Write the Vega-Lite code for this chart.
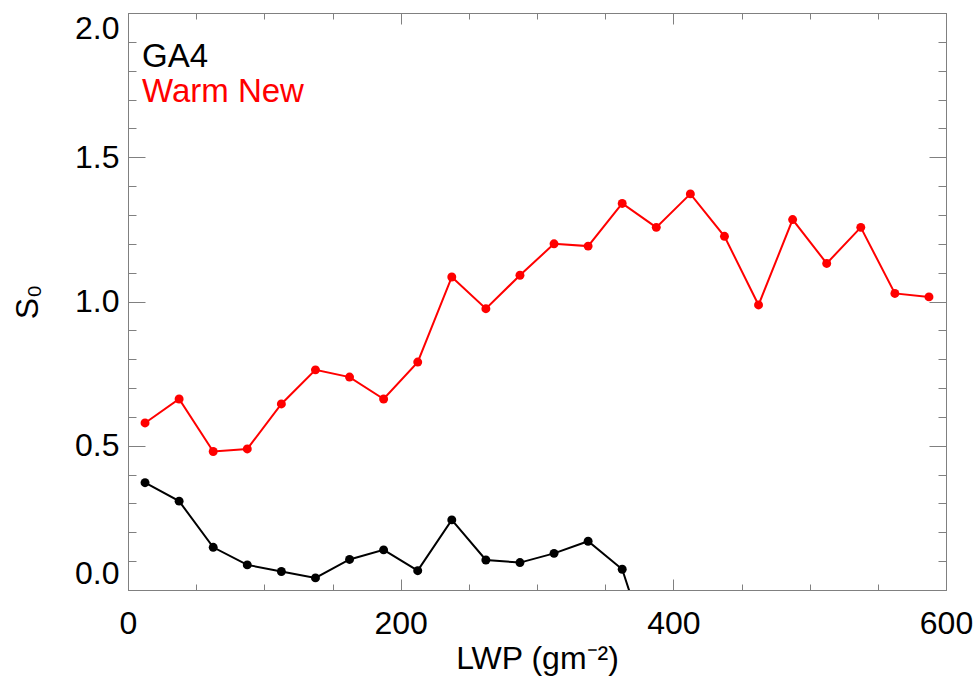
{
  "$schema": "https://vega.github.io/schema/vega-lite/v6.json",
  "autosize": {"type": "none"},
  "padding": {"left": 128, "top": 13, "right": 33, "bottom": 95},
  "width": 818,
  "height": 577,
  "background": "white",
  "config": {
    "view": {"stroke": "#808080", "strokeWidth": 1},
    "font": "Liberation Sans",
    "axis": {
      "domainColor": "#808080",
      "tickColor": "#808080",
      "labelFont": "Liberation Sans",
      "titleFont": "Liberation Sans",
      "labelFontSize": 32,
      "titleFontSize": 32,
      "labelColor": "black",
      "titleColor": "black",
      "titleFontWeight": "normal",
      "grid": false
    }
  },
  "data": {
    "values": [
      {"series": "GA4", "lwp": 12.5, "s0": 0.372},
      {"series": "GA4", "lwp": 37.5, "s0": 0.308},
      {"series": "GA4", "lwp": 62.5, "s0": 0.148},
      {"series": "GA4", "lwp": 87.5, "s0": 0.087},
      {"series": "GA4", "lwp": 112.5, "s0": 0.064},
      {"series": "GA4", "lwp": 137.5, "s0": 0.042},
      {"series": "GA4", "lwp": 162.5, "s0": 0.106},
      {"series": "GA4", "lwp": 187.5, "s0": 0.139},
      {"series": "GA4", "lwp": 212.5, "s0": 0.067},
      {"series": "GA4", "lwp": 237.5, "s0": 0.243},
      {"series": "GA4", "lwp": 262.5, "s0": 0.104},
      {"series": "GA4", "lwp": 287.5, "s0": 0.095},
      {"series": "GA4", "lwp": 312.5, "s0": 0.127},
      {"series": "GA4", "lwp": 337.5, "s0": 0.169},
      {"series": "GA4", "lwp": 362.5, "s0": 0.072},
      {"series": "GA4", "lwp": 387.5, "s0": -0.29},
      {"series": "Warm New", "lwp": 12.5, "s0": 0.579},
      {"series": "Warm New", "lwp": 37.5, "s0": 0.662},
      {"series": "Warm New", "lwp": 62.5, "s0": 0.48},
      {"series": "Warm New", "lwp": 87.5, "s0": 0.489},
      {"series": "Warm New", "lwp": 112.5, "s0": 0.645},
      {"series": "Warm New", "lwp": 137.5, "s0": 0.763},
      {"series": "Warm New", "lwp": 162.5, "s0": 0.738},
      {"series": "Warm New", "lwp": 187.5, "s0": 0.662},
      {"series": "Warm New", "lwp": 212.5, "s0": 0.79},
      {"series": "Warm New", "lwp": 237.5, "s0": 1.085},
      {"series": "Warm New", "lwp": 262.5, "s0": 0.975},
      {"series": "Warm New", "lwp": 287.5, "s0": 1.091},
      {"series": "Warm New", "lwp": 312.5, "s0": 1.2},
      {"series": "Warm New", "lwp": 337.5, "s0": 1.192},
      {"series": "Warm New", "lwp": 362.5, "s0": 1.34},
      {"series": "Warm New", "lwp": 387.5, "s0": 1.257},
      {"series": "Warm New", "lwp": 412.5, "s0": 1.373},
      {"series": "Warm New", "lwp": 437.5, "s0": 1.226},
      {"series": "Warm New", "lwp": 462.5, "s0": 0.988},
      {"series": "Warm New", "lwp": 487.5, "s0": 1.284},
      {"series": "Warm New", "lwp": 512.5, "s0": 1.132},
      {"series": "Warm New", "lwp": 537.5, "s0": 1.257},
      {"series": "Warm New", "lwp": 562.5, "s0": 1.028},
      {"series": "Warm New", "lwp": 587.5, "s0": 1.016}
    ]
  },
  "resolve": {"axis": {"x": "independent", "y": "independent"}},
  "layer": [
    {
      "mark": {"type": "line", "strokeWidth": 2, "clip": true},
      "encoding": {
        "x": {
          "field": "lwp", "type": "quantitative",
          "scale": {"domain": [0, 600], "nice": false, "zero": false},
          "axis": {
            "orient": "bottom",
            "title": "LWP (gm⁻²)",
            "values": [0, 50, 100, 150, 200, 250, 300, 350, 400, 450, 500, 550, 600],
            "tickSize": {"condition": {"test": "datum.value % 200 === 0", "value": -11}, "value": -6},
            "labelExpr": "datum.value % 200 === 0 ? datum.label : ''",
            "labelPadding": 29,
            "labelFlush": false,
            "labelOverlap": false,
            "titlePadding": -1
          }
        },
        "y": {
          "field": "s0", "type": "quantitative",
          "scale": {"domain": [0, 2], "nice": false, "zero": false},
          "axis": {
            "orient": "left",
            "title": "S₀",
            "values": [0, 0.1, 0.2, 0.3, 0.4, 0.5, 0.6, 0.7, 0.8, 0.9, 1.0, 1.1, 1.2, 1.3, 1.4, 1.5, 1.6, 1.7, 1.8, 1.9, 2.0],
            "tickSize": {"condition": {"test": "abs(datum.value*2 - round(datum.value*2)) < 0.000001", "value": -17}, "value": -8},
            "labelExpr": "abs(datum.value*2 - round(datum.value*2)) < 0.000001 ? format(datum.value, '.1f') : ''",
            "labelPadding": 26,
            "labelFlush": true,
            "labelOverlap": false,
            "titlePadding": 30
          }
        },
        "color": {
          "field": "series", "type": "nominal",
          "scale": {"domain": ["GA4", "Warm New"], "range": ["black", "red"]},
          "legend": {
            "title": null,
            "orient": "top-left",
            "offset": 27,
            "padding": 0,
            "symbolSize": 0,
            "symbolStrokeWidth": 0,
            "symbolOpacity": 0,
            "labelOffset": -46,
            "labelLimit": 0,
            "labelFont": "Liberation Sans",
            "labelFontSize": 33,
            "rowPadding": 1,
            "encode": {"labels": {"update": {"fill": {"scale": "color", "field": "value"}}}}
          }
        }
      }
    },
    {
      "mark": {"type": "point", "filled": true, "size": 80, "opacity": 1, "clip": true},
      "encoding": {
        "x": {
          "field": "lwp", "type": "quantitative",
          "scale": {"domain": [0, 600], "nice": false, "zero": false},
          "axis": {
            "orient": "top",
            "title": null,
            "values": [0, 50, 100, 150, 200, 250, 300, 350, 400, 450, 500, 550, 600],
            "tickSize": {"condition": {"test": "datum.value % 200 === 0", "value": -11}, "value": -6},
            "labels": false
          }
        },
        "y": {
          "field": "s0", "type": "quantitative",
          "scale": {"domain": [0, 2], "nice": false, "zero": false},
          "axis": {
            "orient": "right",
            "title": null,
            "values": [0, 0.1, 0.2, 0.3, 0.4, 0.5, 0.6, 0.7, 0.8, 0.9, 1.0, 1.1, 1.2, 1.3, 1.4, 1.5, 1.6, 1.7, 1.8, 1.9, 2.0],
            "tickSize": {"condition": {"test": "abs(datum.value*2 - round(datum.value*2)) < 0.000001", "value": -17}, "value": -8},
            "labels": false
          }
        },
        "color": {"field": "series", "type": "nominal", "legend": null}
      }
    }
  ]
}
